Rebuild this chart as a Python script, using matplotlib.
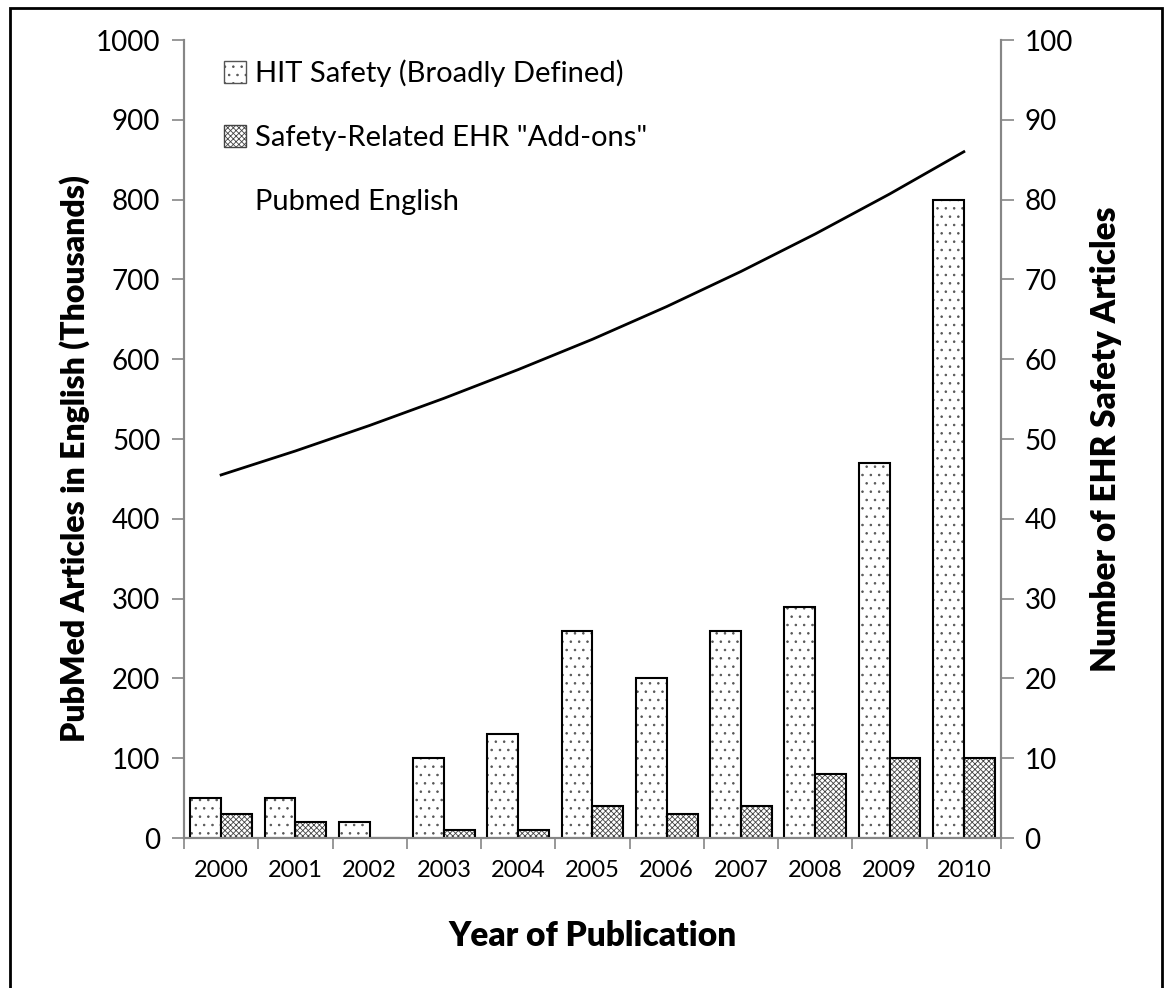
import numpy as np
import matplotlib.pyplot as plt
from matplotlib.patches import Patch, Rectangle
from matplotlib.lines import Line2D

plt.rcParams['font.family'] = ['Lato', 'DejaVu Sans']
plt.rcParams['hatch.linewidth'] = 0.6

# Data
years = ['2000', '2001', '2002', '2003', '2004', '2005',
         '2006', '2007', '2008', '2009', '2010']
hit_safety = [5, 5, 2, 10, 13, 26, 20, 26, 29, 47, 80]
ehr_addons = [3, 2, 0, 1, 1, 4, 3, 4, 8, 10, 10]
pubmed_english = [455, 485, 517, 551, 587, 625, 666, 710, 757, 807, 860]

grey = '#868686'

fig = plt.figure(figsize=(11.68, 9.88), dpi=100)
ax = fig.add_axes([0.1575, 0.1518, 0.8570 - 0.1575, 0.9595 - 0.1518])
ax2 = ax.twinx()

x = np.arange(len(years))
w = 0.415

# Bars on the right axis: hatch first, then black outline
def hatched_bars(axis, xs, vals, hatch, hcol):
    axis.bar(xs, vals, w, color='white', edgecolor=hcol, hatch=hatch, linewidth=0)
    axis.bar(xs, vals, w, fill=False, edgecolor='black', linewidth=1.5)

hatched_bars(ax2, x - w / 2, hit_safety, '..', '#555555')
hatched_bars(ax2, x + w / 2, ehr_addons, 'xxxxxx', '#444444')

# Line on the left axis
ax.plot(x, pubmed_english, color='black', linewidth=2)

ax.set_xlim(-0.5, len(years) - 0.5)
ax.set_ylim(0, 1000)
ax2.set_ylim(0, 100)
ax.set_yticks(np.arange(0, 1001, 100))
ax2.set_yticks(np.arange(0, 101, 10))

# x ticks between the categories, labels at the centres
ax.set_xticks(np.arange(-0.5, len(years)), labels=[])
ax.set_xticks(x, labels=years, minor=True)
ax.tick_params(axis='x', which='major', length=8, color=grey, width=1.2)
ax.tick_params(axis='x', which='minor', length=0, pad=16, labelsize=17)
ax.tick_params(axis='y', length=9, color=grey, width=1.2, labelsize=20, pad=8)
ax2.tick_params(axis='y', length=9, color=grey, width=1.2, labelsize=20, pad=8)

for a in (ax, ax2):
    a.spines['top'].set_visible(False)
    for s in ('left', 'right', 'bottom'):
        a.spines[s].set_color(grey)
        a.spines[s].set_linewidth(1.5)

ax.set_ylabel('PubMed Articles in English (Thousands)', fontsize=23,
              fontweight='heavy')
ax.yaxis.set_label_coords(-0.115, 0.475)
ax2.set_ylabel('Number of EHR Safety Articles', fontsize=24,
               fontweight='heavy', labelpad=12)
ax.set_xlabel('Year of Publication', fontsize=24, fontweight='heavy', labelpad=28)

handles = [
    Patch(facecolor='white', edgecolor='#555555', hatch='..', linewidth=1),
    Patch(facecolor='white', edgecolor='#444444', hatch='xxxxxx', linewidth=1),
    Line2D([], [], color='none'),
]
labels = ['HIT Safety (Broadly Defined)', 'Safety-Related EHR "Add-ons"',
          'Pubmed English']
ax2.legend(handles, labels, loc='upper left', bbox_to_anchor=(0.035, 0.99),
           frameon=False, fontsize=21, handlelength=0.75, handleheight=0.75,
           handletextpad=0.3, labelspacing=1.3, borderaxespad=0)

# outer frame of the chart
fig.patches.append(Rectangle((10 / 1168, -0.01), 1152 / 1168, 1 - 8 / 988 + 0.01,
                             transform=fig.transFigure, fill=False,
                             edgecolor='black', linewidth=2))

fig.savefig('out.png', dpi=100)
